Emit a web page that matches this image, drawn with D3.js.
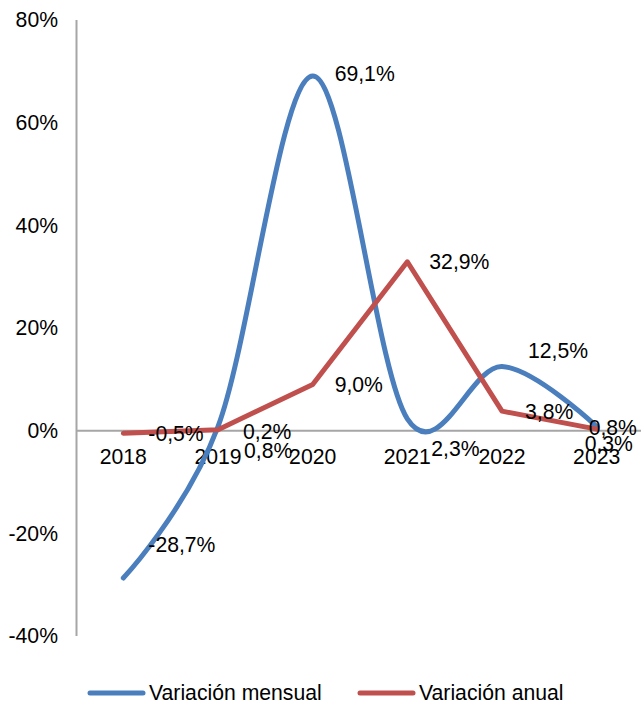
<!DOCTYPE html>
<html><head><meta charset="utf-8">
<script src="https://cdn.jsdelivr.net/npm/d3@7/dist/d3.min.js"></script>
<style>body{margin:0;background:#fff}svg{display:block}text{font-family:"Liberation Sans",Arial,sans-serif;fill:#000}</style>
</head><body>
<svg id="c" width="641" height="708"></svg>
<script>
const years = ["2018","2019","2020","2021","2022","2023"];
const mensual = [-28.7, 0.8, 69.1, 2.3, 12.5, 0.8];
const anual = [-0.5, 0.2, 9.0, 32.9, 3.8, 0.3];
const yTicks = [-40,-20,0,20,40,60,80];
const seriesNames = ["Variación mensual","Variación anual"];
const colors = ["#4A7EBD","#C0504D"];
// label offsets (styling)
const offM = [[25,-33],[26,24],[22,-2],[24,30],[26,-16],[-8,1]];
const offA = [[25,0],[25,2],[22,0],[22,0],[23,0],[-12,14]];

const svg = d3.select("#c");
const fs = 21.2;
const x = d3.scalePoint().domain(years).range([76, 644]).padding(0.5);
const y = d3.scaleLinear().domain([-40,80]).range([636,20]);
const fmt = v => (v.toFixed(1).replace(".", ",")) + "%";

// y axis
svg.append("line").attr("x1",76.5).attr("x2",76.5).attr("y1",y(80)).attr("y2",y(-40)).attr("stroke","#A6A6A6").attr("stroke-width",2);
svg.append("g").selectAll("text").data(yTicks).join("text")
  .attr("x",58).attr("y",d=>y(d)).attr("dy","0.35em").attr("text-anchor","end")
  .style("font-size",fs+"px").text(d=>d+"%");
// zero line
svg.append("line").attr("x1",76).attr("x2",641).attr("y1",y(0)).attr("y2",y(0)).attr("stroke","#A6A6A6").attr("stroke-width",2);
// categories
svg.append("g").selectAll("text").data(years).join("text")
  .attr("x",d=>x(d)).attr("y",y(0)+26).attr("dy","0.35em").attr("text-anchor","middle")
  .style("font-size",fs+"px").text(d=>d);

const lineSmooth = d3.line().x((d,i)=>x(years[i])).y(d=>y(d)).curve(d3.curveCardinal.tension(0));
const lineStraight = d3.line().x((d,i)=>x(years[i])).y(d=>y(d));
svg.append("path").datum(mensual).attr("d",lineSmooth).attr("fill","none").attr("stroke",colors[0]).attr("stroke-width",5).attr("stroke-linecap","round").attr("stroke-linejoin","round");
svg.append("path").datum(anual).attr("d",lineStraight).attr("fill","none").attr("stroke",colors[1]).attr("stroke-width",5).attr("stroke-linecap","round").attr("stroke-linejoin","round");

function labels(vals, off){
  svg.append("g").selectAll("text").data(vals).join("text")
    .attr("x",(d,i)=>x(years[i])+off[i][0]).attr("y",(d,i)=>y(d)+off[i][1]).attr("dy","0.35em")
    .style("font-size",fs+"px").text(d=>fmt(d));
}
labels(mensual, offM);
labels(anual, offA);

// legend
const leg = [{x:90},{x:360}];
leg.forEach((l,i)=>{
  svg.append("line").attr("x1",l.x).attr("x2",l.x+53).attr("y1",693).attr("y2",693).attr("stroke",colors[i]).attr("stroke-width",5).attr("stroke-linecap","round");
  svg.append("text").attr("x",l.x+59).attr("y",693).attr("dy","0.35em").style("font-size",fs+"px").text(seriesNames[i]);
});
</script>
</body></html>
